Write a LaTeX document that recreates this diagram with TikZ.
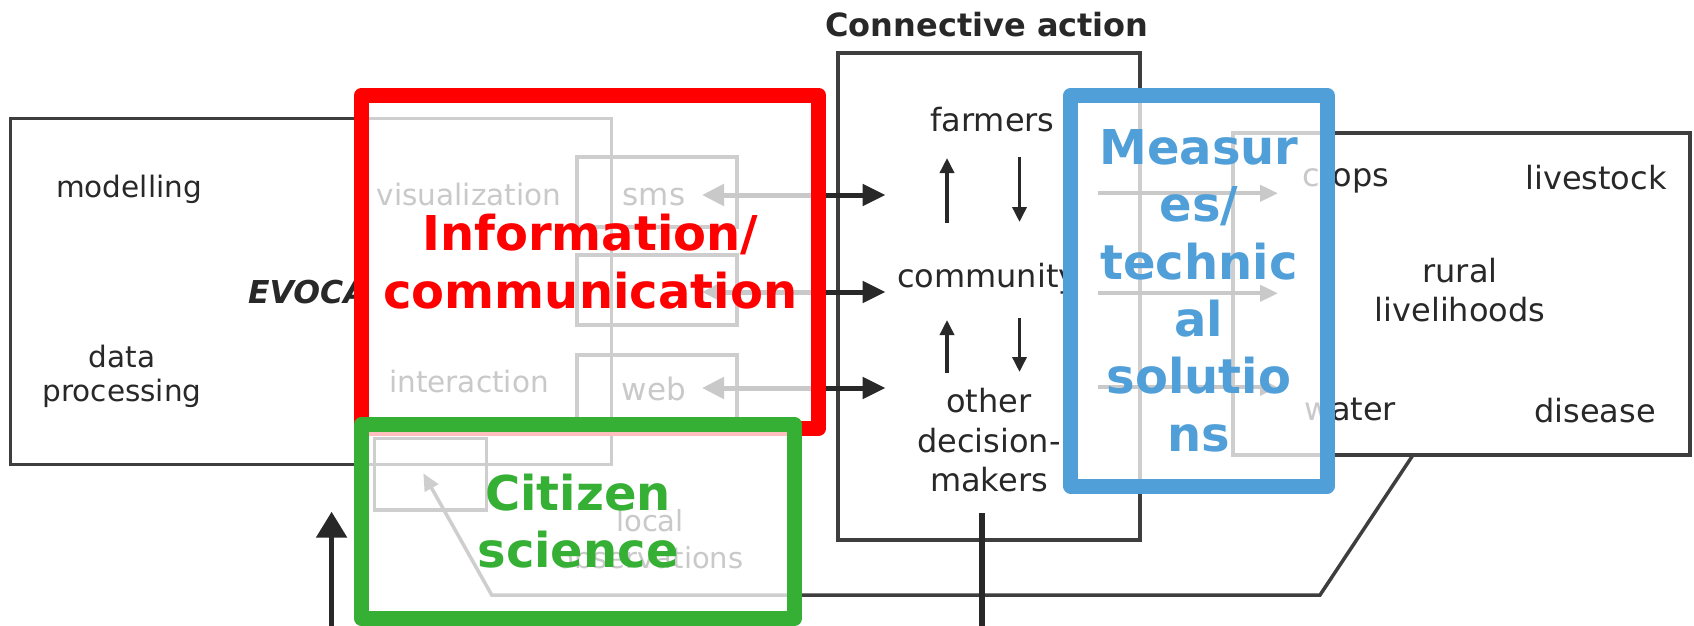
\documentclass[tikz,border=0pt]{standalone}
\usepackage{fontspec}
\setmainfont{DejaVu Sans}
\usetikzlibrary{arrows.meta}
\definecolor{ink}{RGB}{40,40,40}
\definecolor{linec}{RGB}{62,62,62}
\definecolor{ovred}{RGB}{255,0,0}
\definecolor{ovgreen}{RGB}{53,176,53}
\definecolor{ovblue}{RGB}{80,159,216}
\tikzset{
  boxline/.style={draw=linec, line width=3.2, inner sep=0, outer sep=0},
  txtA/.style={text=ink, inner sep=0, outer sep=0, font=\fontsize{32}{39.5}\selectfont},
  txtB/.style={text=ink, inner sep=0, outer sep=0, font=\fontsize{29.5}{34}\selectfont},
  txtC/.style={text=ink, inner sep=0, outer sep=0, font=\fontsize{29}{36.6}\selectfont},
  titletxt/.style={text=ink, inner sep=0, outer sep=0, font=\fontsize{32}{38}\selectfont\bfseries},
  evocatxt/.style={text=ink, inner sep=0, outer sep=0, font=\fontsize{31.5}{38}\selectfont\bfseries\itshape},
  ovl/.style={line width=15, line join=round, fill=white, fill opacity=0.75, text opacity=1, inner sep=0, outer sep=0, align=center, font=\fontsize{48}{57.3}\selectfont\bfseries},
  bigarrow/.style={draw=ink, line width=5, {Triangle[length=22pt,width=21pt]}-{Triangle[length=23pt,width=21pt]}},
  midarrow/.style={draw=ink, line width=3.5, -{Triangle[length=15pt,width=14pt]}},
  feedarrow/.style={draw=linec, line width=3.5, -{Triangle[length=17pt,width=15pt]}},
  outarrow/.style={draw=ink, line width=4, -{Triangle[length=18pt,width=16pt]}},
  thickline/.style={draw=ink, line width=5.5},
  thickarrow/.style={draw=ink, line width=5.5, -{Triangle[length=26pt,width=30pt]}}
}
\begin{document}
\begin{tikzpicture}[x=1pt,y=-1pt]
\useasboundingbox (0,0) rectangle (1694,626);
\fill[white] (0,0) rectangle (1694,626);

% ---------- EVOCA block ----------
\node[boxline, minimum width=601, minimum height=346] (evoca) at (311.25,291.4) {};
\node[txtB, anchor=base] (modelling) at (129,197.3) {modelling};
\node[txtB, align=center] (dataproc) at (122,376.3) {data\\processing};
\node[evocatxt, anchor=base west] (evocat) at (248,303.3) {EVOCA};
\node[txtB, anchor=base] (visual) at (469,205) {visualization};
\node[txtB, anchor=base] (interact) at (469,392) {interaction};

\node[boxline, minimum width=160, minimum height=70] (smsbox) at (657,192) {};
\node[boxline, minimum width=160, minimum height=70] (appbox) at (657,290) {};
\node[boxline, minimum width=160, minimum height=70] (webbox) at (657,390) {};
\node[txtA, font=\fontsize{31}{36}\selectfont, anchor=base] (sms) at (654,205) {sms};
\node[txtA, font=\fontsize{31}{36}\selectfont, anchor=base] (web) at (654,400) {web};

\node[boxline, minimum width=112.5, minimum height=71.7] (smallbox) at (430.5,474.2) {};
\node[txtC, align=center] (localobs) at (650,539) {local\\observations};

% ---------- Connective action ----------
\node[titletxt, anchor=base] (catitle) at (987,36.5) {Connective action};
\node[boxline, minimum width=302, minimum height=487] (cabox) at (989,296.5) {};
\node[txtA, anchor=base] (farmers) at (992.5,131.7) {farmers};
\node[txtA, anchor=base west] (community) at (897,287) {community};
\node[txtA, align=center] (others) at (989,440.3) {other\\decision-\\makers};

% ---------- outcomes box ----------
\node[boxline, minimum width=457, minimum height=322] (rbox) at (1461.5,294) {};
\node[txtA, anchor=base] (crops) at (1346,186) {crops};
\node[txtA, anchor=base] (livestock) at (1596,189.5) {livestock};
\node[txtA, align=center] (rural) at (1460,290.3) {rural\\livelihoods};
\node[txtA, anchor=base] (water) at (1350.5,420) {water};
\node[txtA, anchor=base] (disease) at (1595,422) {disease};

% ---------- connectors ----------
\coordinate (smsend) at (702,195);
\coordinate (append) at (702,292);
\coordinate (webend) at (702,388);
\coordinate (caone) at (885.5,195);
\coordinate (catwo) at (885.5,292);
\coordinate (cathree) at (885.5,388);
\draw[bigarrow] (smsend) -- (caone);
\draw[bigarrow] (append) -- (catwo);
\draw[bigarrow] (webend) -- (cathree);

\coordinate (fupA) at (947,223);
\coordinate (fupB) at (947,158);
\coordinate (fdnA) at (1019.5,157);
\coordinate (fdnB) at (1019.5,222);
\coordinate (oupA) at (947,373);
\coordinate (oupB) at (947,320);
\coordinate (odnA) at (1019.5,318);
\coordinate (odnB) at (1019.5,372);
\draw[midarrow] (fupA) -- (fupB);
\draw[midarrow] (fdnA) -- (fdnB);
\draw[midarrow] (oupA) -- (oupB);
\draw[midarrow] (odnA) -- (odnB);

\coordinate (rA) at (1098,193.3);
\coordinate (rAe) at (1278,193.3);
\coordinate (rB) at (1098,293.3);
\coordinate (rBe) at (1278,293.3);
\coordinate (rC) at (1098,387.3);
\coordinate (rCe) at (1278,387.3);
\draw[outarrow] (rA) -- (rAe);
\draw[outarrow] (rB) -- (rBe);
\draw[outarrow] (rC) -- (rCe);

\coordinate (fbstart) at (1413,455);
\coordinate (fbcorner) at (1320,595);
\coordinate (fbleft) at (491.7,595);
\coordinate (fbtip) at (423.3,473.3);
\draw[feedarrow, line join=miter] (fbstart) -- (fbcorner) -- (fbleft) -- (fbtip);

\coordinate (catail) at (982,513);
\coordinate (cabottom) at (982,626);
\draw[thickline] (catail) -- (cabottom);

\coordinate (inbottom) at (331.6,626);
\coordinate (intip) at (331.6,511.7);
\draw[thickarrow] (inbottom) -- (intip);

% ---------- overlays ----------
\node[ovl, draw=ovred, text=ovred, minimum width=457, minimum height=333.4] (infocomm) at (590.3,261.7) {Information/\\communication};
\node[ovl, draw=ovgreen, text=ovgreen, minimum width=433.2, minimum height=193.8] (citsci) at (578.1,521.4) {Citizen\\science};
\node[ovl, draw=ovblue, text=ovblue, minimum width=256.2, minimum height=390.7] (measures) at (1198.9,290.65) {Measur\\es/\\technic\\al\\solutio\\ns};
\end{tikzpicture}
\end{document}
